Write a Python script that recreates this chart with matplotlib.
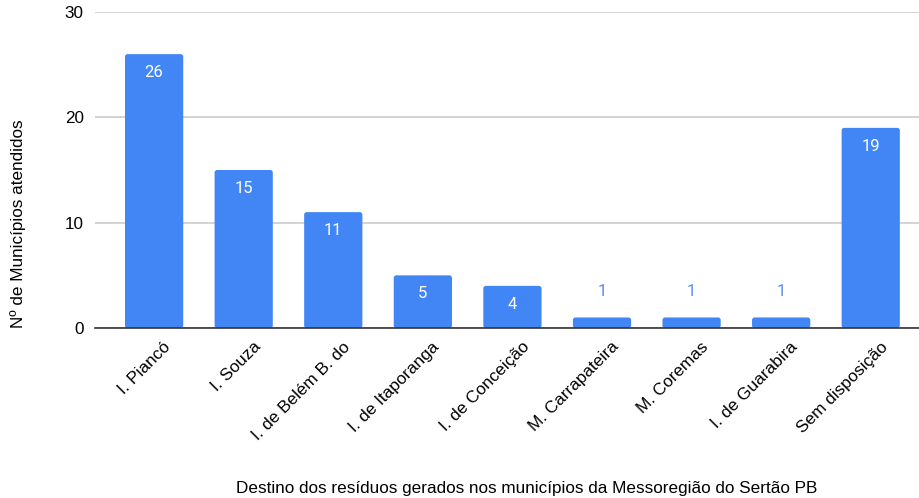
import matplotlib
matplotlib.use("Agg")
import matplotlib.pyplot as plt
from matplotlib.patches import FancyBboxPatch
from matplotlib.transforms import ScaledTranslation

categories = ["I. Piancó", "I. Souza", "I. de Belém B. do", "I. de Itaporanga",
              "I. de Conceição", "M. Carrapateira", "M. Coremas",
              "I. de Guarabira", "Sem disposição"]
values = [26, 15, 11, 5, 4, 1, 1, 1, 19]
yticks = [0, 10, 20, 30]
ylabel = "Nº de Municípios atendidos"
xlabel = "Destino dos resíduos gerados nos municípios da Messoregião do Sertão PB"

BAR = "#4285F4"
plt.rcParams['font.family'] = ['Liberation Sans', 'DejaVu Sans']
FS = 12.3

fig = plt.figure(figsize=(9.2, 4.98), dpi=100)
ax = fig.add_axes([95/920, 1-328/498, 1-95/920, (328-12)/498])

x = list(range(len(categories)))
width = 0.65
bars = ax.bar(x, values, width=width, color=BAR, zorder=3)
for b in bars:
    b.set_visible(False)
    p = FancyBboxPatch((b.get_x(), b.get_y()), b.get_width(), b.get_height(),
                       boxstyle="round,pad=0,rounding_size=0.03",
                       mutation_aspect=8, facecolor=BAR, edgecolor='none', zorder=3)
    ax.add_patch(p)

for xi, v in zip(x, values):
    if v >= 3:
        ax.text(xi, v - 1.75, str(v), ha='center', va='center', color='white',
                fontsize=12, family=['Roboto', 'DejaVu Sans'], zorder=4)
    else:
        ax.text(xi, v + 2.5, str(v), ha='center', va='center', color='#5a8ff0',
                fontsize=12, family=['Roboto', 'DejaVu Sans'], zorder=4)

ax.set_xlim(-0.66, 8.55)
ax.set_ylim(0, 30)
ax.set_yticks(yticks)
ax.set_yticklabels([str(t) for t in yticks], fontsize=FS)
ax.yaxis.grid(True, color='#cccccc', linewidth=1.2, zorder=0)
ax.set_axisbelow(True)
for s in ['top', 'right', 'left']:
    ax.spines[s].set_visible(False)
ax.spines['bottom'].set_color('#333333')
ax.spines['bottom'].set_linewidth(1.2)
ax.spines['bottom'].set_zorder(5)
ax.tick_params(axis='y', length=0, pad=8)
ax.tick_params(axis='x', length=0, pad=8)
ax.set_xticks(x)
ax.set_xticklabels(categories, rotation=45, ha='right', rotation_mode='anchor',
                   fontsize=FS)
offset = ScaledTranslation(9/100, 0, fig.dpi_scale_trans)
for lbl in ax.get_xticklabels():
    lbl.set_transform(lbl.get_transform() + offset)

fig.text(18/920, 1-224/498, ylabel, rotation=90, ha='center', va='center', fontsize=FS)
fig.text(527/920, 1-488/498, xlabel, ha='center', va='center', fontsize=FS)

fig.savefig("out.png", dpi=100)
